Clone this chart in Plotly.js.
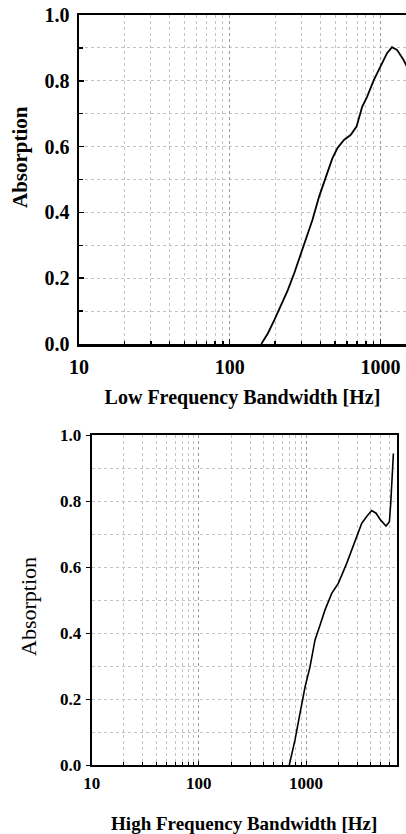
<!DOCTYPE html>
<html>
<head>
<meta charset="utf-8">
<script src="https://cdn.plot.ly/plotly-3.0.1.min.js"></script>
<style>
  html, body { margin: 0; padding: 0; background: #fff; }
  #chart { width: 406px; height: 834px; }
</style>
</head>
<body>
<div id="chart"></div>
<script>
// ---- Data ----
const lowFreqHz = [162, 179, 198, 219, 243, 268, 297, 320, 354, 392, 434, 480, 518, 573, 634, 695, 757, 817, 904, 1000, 1107, 1194, 1289, 1426, 1500];
const lowAbsorption = [0.000, 0.032, 0.073, 0.119, 0.164, 0.215, 0.276, 0.316, 0.377, 0.448, 0.504, 0.564, 0.595, 0.620, 0.635, 0.661, 0.721, 0.752, 0.802, 0.843, 0.884, 0.902, 0.894, 0.863, 0.843];

const highFreqHz = [698, 789, 879, 980, 1090, 1213, 1352, 1504, 1737, 2005, 2396, 2865, 3305, 3680, 4099, 4500, 4973, 5580, 5998, 6170, 6400, 6535];
const highAbsorption = [0.000, 0.076, 0.157, 0.237, 0.298, 0.379, 0.424, 0.470, 0.520, 0.551, 0.611, 0.677, 0.732, 0.753, 0.771, 0.763, 0.742, 0.724, 0.737, 0.793, 0.894, 0.944];

const xTickVals = [10, 100, 1000];
const xTickText = ['10', '100', '1000'];
const yTickVals = [0, 0.2, 0.4, 0.6, 0.8, 1.0];
const yTickText = ['0.0', '0.2', '0.4', '0.6', '0.8', '1.0'];

const topXTitle = 'Low Frequency Bandwidth [Hz]';
const bottomXTitle = 'High Frequency Bandwidth [Hz]';
const yTitle = 'Absorption';

// minor log grid positions (2..9 x decade)
const minorX = [];
[10, 100, 1000].forEach(d => { for (let k = 2; k <= 9; k++) minorX.push(k * d); });
const minorY = [0.1, 0.3, 0.5, 0.7, 0.9];

const W = 406, H = 834;
const px = v => v / W;
const py = v => 1 - v / H;

const SERIF = 'Liberation Serif, Times New Roman, serif';
const serifBold = { family: SERIF, color: '#000', weight: 'bold' };

const traces = [
  { x: lowFreqHz, y: lowAbsorption, type: 'scatter', mode: 'lines',
    line: { color: '#000', width: 1.8 }, xaxis: 'x', yaxis: 'y', hoverinfo: 'skip' },
  { x: highFreqHz, y: highAbsorption, type: 'scatter', mode: 'lines',
    line: { color: '#000', width: 1.6 }, xaxis: 'x2', yaxis: 'y2', hoverinfo: 'skip' }
];

const gridCol = '#c4c4c4';
const majGridCol = '#9a9a9a';

const layout = {
  width: W, height: H,
  margin: { l: 0, r: 0, t: 0, b: 0 },
  paper_bgcolor: '#fff', plot_bgcolor: '#fff',
  showlegend: false,
  xaxis: {
    type: 'log', domain: [px(79), 1], range: [1, 3.17], anchor: 'y',
    tickmode: 'array', tickvals: xTickVals, ticktext: xTickText,
    ticks: 'inside', ticklen: 5, tickcolor: '#000', tickwidth: 1.5,
    showline: true, linecolor: '#000', linewidth: 2.5, mirror: true,
    showgrid: true, gridcolor: majGridCol, griddash: 'dot', gridwidth: 1,
    minor: { tickmode: 'array', tickvals: minorX, ticks: 'inside', ticklen: 3, tickcolor: '#000',
             showgrid: true, gridcolor: gridCol, griddash: 'dot', gridwidth: 1 },
    tickfont: Object.assign({ size: 20 }, serifBold),
    ticklabelstandoff: 3,
    zeroline: false,
    title: { text: topXTitle, font: Object.assign({ size: 20 }, serifBold), standoff: 14 }
  },
  yaxis: {
    domain: [py(344), py(15)], range: [0, 1], anchor: 'x',
    tickmode: 'array', tickvals: yTickVals, ticktext: yTickText,
    ticks: 'inside', ticklen: 5, tickcolor: '#000', tickwidth: 1.5,
    showline: true, linecolor: '#000', linewidth: 2.5, mirror: false,
    showgrid: true, gridcolor: gridCol, griddash: 'dot', gridwidth: 1,
    minor: { tickmode: 'array', tickvals: minorY, ticks: 'inside', ticklen: 4, tickcolor: '#000',
             showgrid: true, gridcolor: gridCol, griddash: 'dot', gridwidth: 1 },
    tickfont: Object.assign({ size: 20 }, serifBold),
    ticklabelstandoff: 3,
    zeroline: false
  },
  xaxis2: {
    type: 'log', domain: [px(91.7), px(396.7)], range: [1, 3.846], anchor: 'y2',
    tickmode: 'array', tickvals: xTickVals, ticktext: xTickText,
    ticks: 'inside', ticklen: 4, tickcolor: '#000', tickwidth: 1,
    showline: true, linecolor: '#000', linewidth: 2, mirror: true,
    showgrid: true, gridcolor: majGridCol, griddash: 'dot', gridwidth: 1,
    minor: { tickmode: 'array', tickvals: minorX, ticks: 'inside', ticklen: 3, tickcolor: '#000',
             showgrid: true, gridcolor: gridCol, griddash: 'dot', gridwidth: 1 },
    tickfont: Object.assign({ size: 17 }, serifBold),
    ticklabelstandoff: 2,
    zeroline: false,
    title: { text: bottomXTitle, font: Object.assign({ size: 19 }, serifBold), standoff: 26 }
  },
  yaxis2: {
    domain: [py(765), py(435)], range: [0, 1], anchor: 'x2',
    tickmode: 'array', tickvals: yTickVals, ticktext: yTickText,
    ticks: 'outside', ticklen: 4, tickcolor: '#000', tickwidth: 1,
    showline: true, linecolor: '#000', linewidth: 2, mirror: true,
    showgrid: true, gridcolor: gridCol, griddash: 'dot', gridwidth: 1,
    minor: { tickmode: 'array', tickvals: minorY, ticks: '', showgrid: true,
             gridcolor: gridCol, griddash: 'dot', gridwidth: 1 },
    tickfont: Object.assign({ size: 17 }, serifBold),
    ticklabelstandoff: 1,
    zeroline: false
  },
  annotations: [
    { text: yTitle, xref: 'paper', yref: 'paper', x: px(20), y: py(157),
      xanchor: 'center', yanchor: 'middle', textangle: -90, showarrow: false,
      font: Object.assign({ size: 21 }, serifBold) },
    { text: yTitle, xref: 'paper', yref: 'paper', x: px(28), y: py(607),
      xanchor: 'center', yanchor: 'middle', textangle: -90, showarrow: false,
      font: { family: SERIF, size: 22, color: '#000' } }
  ]
};

Plotly.newPlot('chart', traces, layout, { staticPlot: true, displayModeBar: false });
</script>
</body>
</html>
